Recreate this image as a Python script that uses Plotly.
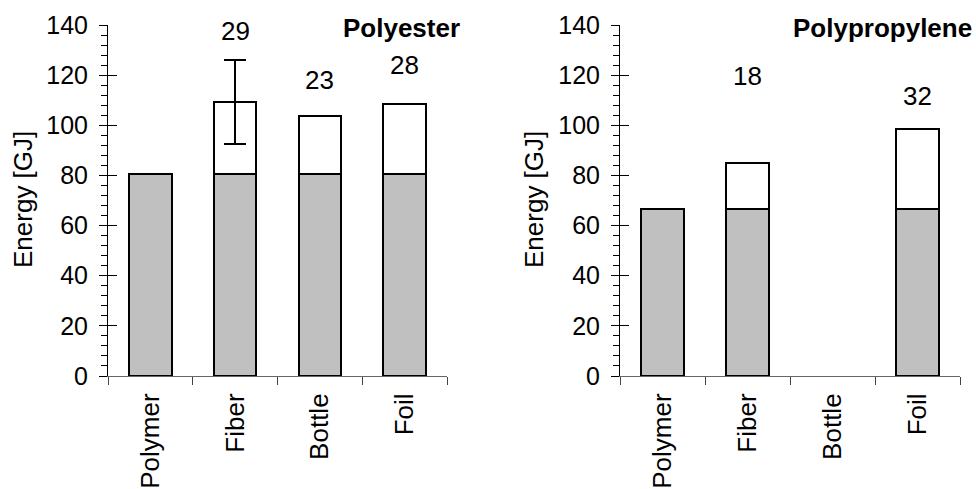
import plotly.graph_objects as go

categories = ["Polymer", "Fiber", "Bottle", "Foil"]

# Polyester
pes_base = [80.7, 80.7, 80.7, 80.7]
pes_add = [None, 28.6, 23.0, 27.8]
pes_err = [None, 16.7, 0.0, 0.0]
pes_label_y = [None, 137.7, 118.0, 124.0]

# Polypropylene
pp_base = [66.6, 66.6, None, 66.6]
pp_add = [None, 18.4, None, 31.8]
pp_label_y = [None, 119.7, None, 111.8]

FONT = "Liberation Sans, Arial, sans-serif"
W, H = 976, 489

fig = go.Figure()

def add_panel(base, add, err, xa, ya):
    fig.add_trace(go.Bar(
        x=categories, y=base, xaxis=xa, yaxis=ya, width=0.5,
        marker=dict(color="#C0C0C0", line=dict(color="black", width=2)),
        showlegend=False, hoverinfo="skip"))
    kw = {}
    if err is not None:
        kw["error_y"] = dict(type="data", array=err, visible=True,
                             color="black", thickness=2, width=11)
    fig.add_trace(go.Bar(
        x=categories, y=add, xaxis=xa, yaxis=ya, width=0.5,
        marker=dict(color="white", line=dict(color="black", width=2)),
        showlegend=False, hoverinfo="skip", **kw))

add_panel(pes_base, pes_add, pes_err, "x", "y")
add_panel(pp_base, pp_add, None, "x2", "y2")

# empty traces for tick-overlay axes
fig.add_trace(go.Scatter(x=[], y=[], xaxis="x", yaxis="y3", showlegend=False))
fig.add_trace(go.Scatter(x=[], y=[], xaxis="x2", yaxis="y4", showlegend=False))

yd = [1 - 376 / H, 1 - 25 / H]
xd1 = [108 / W, 447 / W]
xd2 = [620 / W, 960 / W]

def yaxis_cfg(anchor):
    return dict(
        domain=yd, anchor=anchor, range=[0, 140], dtick=20, tick0=0,
        ticks="outside", ticklen=8, tickwidth=1, tickcolor="black",
        showline=True, linecolor="black", linewidth=1, showgrid=False,
        zeroline=False, ticklabelstandoff=6,
        tickfont=dict(family=FONT, size=25, color="black"),
        minor=dict(dtick=4, ticks="outside", ticklen=6, tickcolor="black",
                   tickwidth=1, showgrid=False),
        fixedrange=True)

def overlay_cfg(over, anchor):
    return dict(
        overlaying=over, anchor=anchor, range=[0, 140], dtick=20, tick0=0,
        ticks="inside", ticklen=9, tickwidth=1, tickcolor="black",
        showticklabels=False, showline=False, showgrid=False, zeroline=False,
        side="left", fixedrange=True)

def xaxis_cfg(domain, anchor):
    return dict(
        domain=domain, anchor=anchor, type="category", range=[-0.5, 3.5],
        categoryorder="array", categoryarray=categories,
        tickson="boundaries", ticks="outside", ticklen=8, tickwidth=1,
        tickcolor="#444", showline=True, linecolor="#666", linewidth=1,
        showgrid=False, zeroline=False, tickangle=-90, ticklabelstandoff=6,
        tickfont=dict(family=FONT, size=26, color="black"), fixedrange=True)

fig.update_layout(
    width=W, height=H, barmode="stack", bargap=0.5,
    paper_bgcolor="white", plot_bgcolor="white",
    margin=dict(l=0, r=0, t=0, b=0, autoexpand=False),
    xaxis=xaxis_cfg(xd1, "y"),
    xaxis2=xaxis_cfg(xd2, "y2"),
    yaxis=yaxis_cfg("x"),
    yaxis2=yaxis_cfg("x2"),
    yaxis3=overlay_cfg("y", "x"),
    yaxis4=overlay_cfg("y2", "x2"),
)

annotations = []
for base, add, ly, xr, yr in [(pes_base, pes_add, pes_label_y, "x", "y"),
                              (pp_base, pp_add, pp_label_y, "x2", "y2")]:
    for c, a, yy in zip(categories, add, ly):
        if a is None or yy is None:
            continue
        annotations.append(dict(x=c, y=yy, xref=xr, yref=yr, text=str(int(round(a))),
                                showarrow=False, yanchor="middle",
                                font=dict(family=FONT, size=26, color="black")))

annotations += [
    dict(x=462 / W, y=1 - 28 / H, xref="paper", yref="paper", text="<b>Polyester</b>",
         xanchor="right", yanchor="middle", showarrow=False,
         font=dict(family=FONT, size=26, color="black")),
    dict(x=974 / W, y=1 - 28 / H, xref="paper", yref="paper", text="<b>Polypropylene</b>",
         xanchor="right", yanchor="middle", showarrow=False,
         font=dict(family=FONT, size=26, color="black")),
    dict(x=23 / W, y=1 - 200 / H, xref="paper", yref="paper", text="Energy [GJ]",
         textangle=-90, xanchor="center", yanchor="middle", showarrow=False,
         font=dict(family=FONT, size=26, color="black")),
    dict(x=534 / W, y=1 - 200 / H, xref="paper", yref="paper", text="Energy [GJ]",
         textangle=-90, xanchor="center", yanchor="middle", showarrow=False,
         font=dict(family=FONT, size=26, color="black")),
]
fig.update_layout(annotations=annotations)

fig.write_html("out.html", config={"displayModeBar": False},
               post_script="document.body.style.margin='0';document.body.style.overflow='hidden';")
